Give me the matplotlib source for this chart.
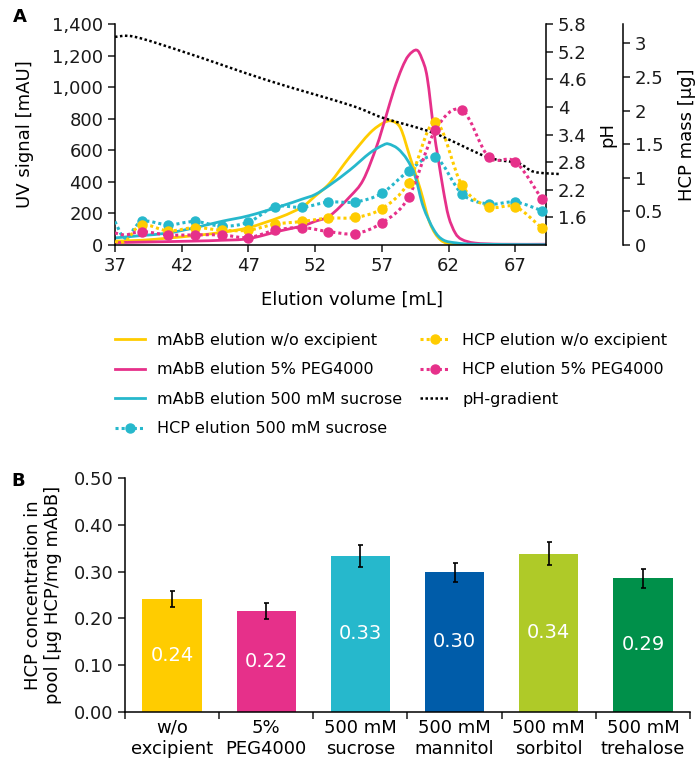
import numpy as np
import matplotlib
matplotlib.use('Agg')
import matplotlib.pyplot as plt
from matplotlib.path import Path
from matplotlib.patches import PathPatch
from matplotlib.lines import Line2D
from matplotlib.ticker import FuncFormatter

plt.rcParams['font.family'] = ['DejaVu Sans']

#=====================================================
# Data
#-----------------------------------------------------
# mAbB UV traces [mAU]
vol_wo = [37, 39, 41, 43, 45, 47, 49.4, 51, 52, 53.1, 54.6, 56.1, 57.1, 57.75,
          58.4, 59.1, 59.9, 60.6, 61.4, 62.4, 64, 69.3]
uv_wo = [25, 30, 44, 60, 80, 110, 177, 240, 310, 393, 559, 709, 773, 785,
         740, 559, 348, 139, 32, 5, 2, 1]

vol_peg = [37, 40, 43, 45, 47, 49.4, 51, 52, 53.1, 54.6, 55.6, 56.6, 57.3, 57.9,
           58.5, 59.0, 59.6, 60.0, 60.4, 60.9, 61.2, 61.6, 62.0, 62.5, 63, 64, 66, 69.3]
uv_peg = [15, 20, 25, 30, 40, 90, 120, 150, 185, 306, 412, 623, 813, 982,
          1120, 1200, 1235, 1180, 1060, 720, 560, 350, 180, 76, 35, 12, 5, 5]

vol_suc = [37, 39, 41, 43, 45, 47, 49.4, 51, 52, 53.1, 54.6, 56.1, 57.1, 57.5,
           58.2, 58.9, 59.5, 60.1, 60.9, 61.6, 62.6, 64, 69.3]
uv_suc = [45, 60, 76, 110, 150, 185, 245, 290, 320, 380, 475, 583, 633, 640,
          610, 540, 433, 243, 95, 32, 13, 5, 2]

# HCP fractions [ug]
hcp_vol = [37, 37.8, 39, 41, 43, 45, 47, 49, 51, 53, 55, 57, 59, 61, 63, 65, 67, 69]
hcp_wo = [0.05, 0.06, 0.30, 0.21, 0.26, 0.22, 0.22, 0.31, 0.35, 0.40, 0.41, 0.54,
          0.93, 1.83, 0.89, 0.57, 0.57, 0.25]
hcp_peg = [0.18, 0.15, 0.20, 0.15, 0.15, 0.15, 0.11, 0.22, 0.26, 0.20, 0.17, 0.33,
           0.71, 1.71, 2.01, 1.31, 1.24, 0.68]
hcp_suc = [0.35, 0.10, 0.35, 0.30, 0.35, 0.28, 0.34, 0.57, 0.56, 0.64, 0.64, 0.77,
           1.10, 1.31, 0.76, 0.61, 0.64, 0.51]

# pH gradient
ph_vol = [37, 38.5, 42.4, 48.4, 54.6, 57.1, 60.9, 64.9, 67.2, 68.4, 70.4]
ph_val = [5.52, 5.52, 5.17, 4.58, 4.04, 3.76, 3.43, 2.91, 2.78, 2.59, 2.54]

# Panel B
bar_labels = ['w/o\nexcipient', '5%\nPEG4000', '500 mM\nsucrose', '500 mM\nmannitol',
              '500 mM\nsorbitol', '500 mM\ntrehalose']
bar_values = [0.241, 0.216, 0.334, 0.299, 0.339, 0.286]
bar_errors = [0.017, 0.017, 0.024, 0.020, 0.024, 0.020]
bar_text = ['0.24', '0.22', '0.33', '0.30', '0.34', '0.29']

YELLOW = '#FFCC00'
MAGENTA = '#E6308A'
CYAN = '#26B8CC'
BLUE = '#005CA9'
LIME = '#AFCA28'
GREEN = '#00904A'
bar_colors = [YELLOW, MAGENTA, CYAN, BLUE, LIME, GREEN]

W, H = 696, 761
FS = 13


#=====================================================
# Functions
#-----------------------------------------------------
def smooth_path(x, y):
    '''Smoothed line (Catmull-Rom as cubic bezier) through the points.'''
    pts = np.column_stack([x, y]).astype(float)
    ext = np.vstack([pts[0], pts, pts[-1]])
    verts = [pts[0]]
    codes = [Path.MOVETO]
    for i in range(len(pts) - 1):
        p0, p1, p2, p3 = ext[i], ext[i + 1], ext[i + 2], ext[i + 3]
        verts += [p1 + (p2 - p0) / 6, p2 - (p3 - p1) / 6, p2]
        codes += [Path.CURVE4] * 3
    return Path(verts, codes)


def add_curve(ax, x, y, color, lw, ls='-', clip=True):
    ax.add_patch(PathPatch(smooth_path(x, y), fill=False, ec=color, lw=lw,
                           ls=ls, clip_on=clip, capstyle='butt'))


def gfmt(v, pos):
    return '{:g}'.format(round(v, 2))


fig = plt.figure(figsize=(W / 100, H / 100), dpi=100)

#=====================================================
# Panel A
#-----------------------------------------------------
ax = fig.add_axes([115 / W, 1 - 245 / H, 431 / W, 221 / H])
ax_ph = ax.twinx()
ax_hcp = ax.twinx()

ax.set_xlim(37, 69.3)
ax.set_ylim(0, 1400)
ax.set_xticks(np.arange(37, 68, 5))
ax.set_yticks(np.arange(0, 1401, 200))
ax.yaxis.set_major_formatter(FuncFormatter(lambda v, p: '{:,.0f}'.format(v)))
ax.spines['top'].set_visible(False)
ax.spines['right'].set_visible(False)

ax_ph.set_ylim(1.0, 5.8)
ax_ph.set_yticks(np.arange(1.6, 5.81, 0.6))
ax_ph.yaxis.set_major_formatter(FuncFormatter(gfmt))

ax_hcp.set_ylim(0, 3.29)
ax_hcp.set_yticks(np.arange(0, 3.01, 0.5))
ax_hcp.yaxis.set_major_formatter(FuncFormatter(gfmt))
ax_hcp.spines['right'].set_position(('outward', 77 * 0.72))

for a in (ax_ph, ax_hcp):
    for s in ('top', 'left', 'bottom'):
        a.spines[s].set_visible(False)

for a in (ax, ax_ph, ax_hcp):
    for s in a.spines.values():
        s.set_linewidth(1.1)
    a.tick_params(labelsize=FS, length=5, width=1.1, colors='#1a1a1a')

for x, y, c in ((vol_wo, uv_wo, YELLOW), (vol_peg, uv_peg, MAGENTA),
                (vol_suc, uv_suc, CYAN)):
    add_curve(ax, x, y, c, 2.0)

add_curve(ax_ph, ph_vol, ph_val, 'black', 1.8, ls=(0, (1, 1)), clip=False)

for y, c in ((hcp_suc, CYAN), (hcp_wo, YELLOW), (hcp_peg, MAGENTA)):
    add_curve(ax_hcp, hcp_vol, y, c, 2.2, ls=(0, (1, 1)))
    ax_hcp.plot(hcp_vol[2:], y[2:], 'o', color=c, ms=6.5, clip_on=False)

ax.set_ylabel('UV signal [mAU]', fontsize=FS)
ax.yaxis.set_label_coords(-81 / 431, 0.5)
ax.set_xlabel('Elution volume [mL]', fontsize=FS)
ax.xaxis.set_label_coords(237 / 431, -46 / 221)
ax_ph.set_ylabel('pH', fontsize=FS)
ax_ph.yaxis.set_label_coords(1 + 52 / 431, 0.5)
ax_hcp.set_ylabel('HCP mass [µg]', fontsize=FS)
ax_hcp.yaxis.set_label_coords(1 + 132 / 431, 0.5)

handles = [
    Line2D([], [], color=YELLOW, lw=2.0),
    Line2D([], [], color=MAGENTA, lw=2.0),
    Line2D([], [], color=CYAN, lw=2.0),
    Line2D([], [], color=CYAN, lw=2.2, ls=(0, (1, 1)), marker='o', ms=6.5),
    Line2D([], [], color=YELLOW, lw=2.2, ls=(0, (1, 1)), marker='o', ms=6.5),
    Line2D([], [], color=MAGENTA, lw=2.2, ls=(0, (1, 1)), marker='o', ms=6.5),
    Line2D([], [], color='black', lw=1.8, ls=(0, (1, 1))),
]
labels = ['mAbB elution w/o excipient', 'mAbB elution 5% PEG4000',
          'mAbB elution 500 mM sucrose', 'HCP elution 500 mM sucrose',
          'HCP elution w/o excipient', 'HCP elution 5% PEG4000', 'pH-gradient']
fig.legend(handles, labels, loc='upper left', bbox_to_anchor=(115 / W, 1 - 333 / H),
           ncol=2, frameon=False, fontsize=11.5, numpoints=1, handlelength=1.9,
           handletextpad=0.75, columnspacing=1.1, labelspacing=0.9,
           borderpad=0, borderaxespad=0)

fig.text(20 / W, 1 - 17 / H, 'A', fontsize=FS, fontweight='bold', ha='center', va='center')

#=====================================================
# Panel B
#-----------------------------------------------------
bx = fig.add_axes([125 / W, 1 - 711.7 / H, 565 / W, 233.3 / H])
pos = np.arange(len(bar_values))
bx.bar(pos, bar_values, width=0.63, color=bar_colors, yerr=bar_errors,
       error_kw=dict(ecolor='black', elinewidth=1.2, capsize=1.8, capthick=1.2))
for p, v, t in zip(pos, bar_values, bar_text):
    bx.text(p, v / 2, t, color='white', fontsize=14, ha='center', va='center')

bx.set_xlim(-0.5, len(bar_values) - 0.5)
bx.set_ylim(0, 0.5)
bx.set_yticks(np.arange(0, 0.51, 0.1))
bx.yaxis.set_major_formatter(FuncFormatter(lambda v, p: '{:.2f}'.format(v)))
bx.set_xticks(np.arange(-0.5, len(bar_values), 1.0))
bx.set_xticklabels([])
bx.set_xticks(pos, minor=True)
bx.set_xticklabels(bar_labels, minor=True, fontsize=FS, linespacing=1.25)
bx.tick_params(axis='x', which='minor', length=0, pad=5)
bx.tick_params(axis='both', which='major', length=5, width=1.1, labelsize=FS,
               colors='#1a1a1a')
bx.spines['top'].set_visible(False)
bx.spines['right'].set_visible(False)
for s in bx.spines.values():
    s.set_linewidth(1.1)
bx.set_ylabel('HCP concentration in\npool [µg HCP/mg mAbB]', fontsize=FS, linespacing=1.15)
bx.yaxis.set_label_coords(-63 / 565, 0.5)

fig.text(18 / W, 1 - 481 / H, 'B', fontsize=FS, fontweight='bold', ha='center', va='center')

fig.savefig('out.png', dpi=100)
